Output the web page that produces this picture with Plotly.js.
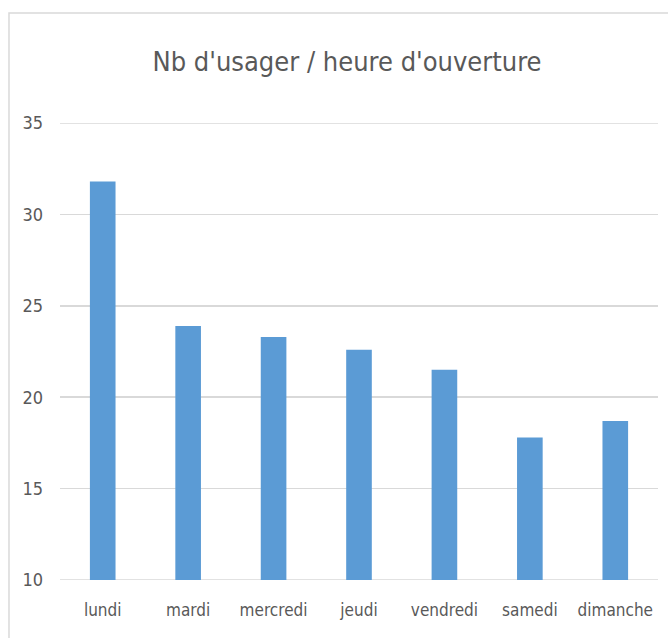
<!DOCTYPE html>
<html>
<head>
<meta charset="utf-8">
<script src="https://cdn.plot.ly/plotly-3.0.1.min.js"></script>
<style>html,body{margin:0;padding:0;background:#fff;}#chart{width:668px;height:638px;}</style>
</head>
<body>
<div id="chart"></div>
<script>
const categories = ["lundi", "mardi", "mercredi", "jeudi", "vendredi", "samedi", "dimanche"];
const values = [31.8, 23.9, 23.3, 22.6, 21.5, 17.8, 18.7];
const yTicks = [10, 15, 20, 25, 30, 35];
const titleText = "Nb d'usager / heure d'ouverture";

const FONT = "'DejaVu Sans Condensed', 'Liberation Sans Narrow', sans-serif";
const GRID = "#d9d9d9";
const trace = {
  type: "bar",
  x: categories,
  y: values,
  marker: {color: "#5B9BD5"},
  width: 0.3,
  hoverinfo: "x+y"
};
const edgeLines = [yTicks[0], yTicks[yTicks.length - 1]].map(v => ({
  type: "line", xref: "paper", yref: "y", x0: 0, x1: 1, y0: v, y1: v,
  line: {color: GRID, width: 1.5}, layer: "below"
}));
const layout = {
  width: 668, height: 638,
  margin: {l: 60, r: 10, t: 123, b: 58},
  paper_bgcolor: "#ffffff", plot_bgcolor: "#ffffff",
  showlegend: false,
  title: {
    text: titleText,
    font: {family: FONT, size: 27, color: "#595959"},
    x: 0.48, xref: "paper", xanchor: "center",
    y: 1.131, yref: "paper", yanchor: "middle"
  },
  xaxis: {
    type: "category",
    showgrid: false, zeroline: false, showline: false, ticks: "",
    tickfont: {family: FONT, size: 17, color: "#595959"},
    ticklabelstandoff: 18
  },
  yaxis: {
    range: [10, 35], tickvals: yTicks, ticktext: yTicks.map(String),
    showgrid: true, gridcolor: GRID, gridwidth: 1.5,
    zeroline: false, showline: false, ticks: "",
    tickfont: {family: FONT, size: 18, color: "#595959"},
    ticklabelstandoff: 16
  },
  shapes: [{
    type: "rect", xref: "paper", yref: "paper",
    x0: -0.0853, x1: 1.2, y0: -0.3, y1: 1.2407,
    line: {color: GRID, width: 1.5}, fillcolor: "rgba(0,0,0,0)", layer: "below"
  }].concat(edgeLines)
};
Plotly.newPlot("chart", [trace], layout, {displayModeBar: false, staticPlot: true});
</script>
</body>
</html>
